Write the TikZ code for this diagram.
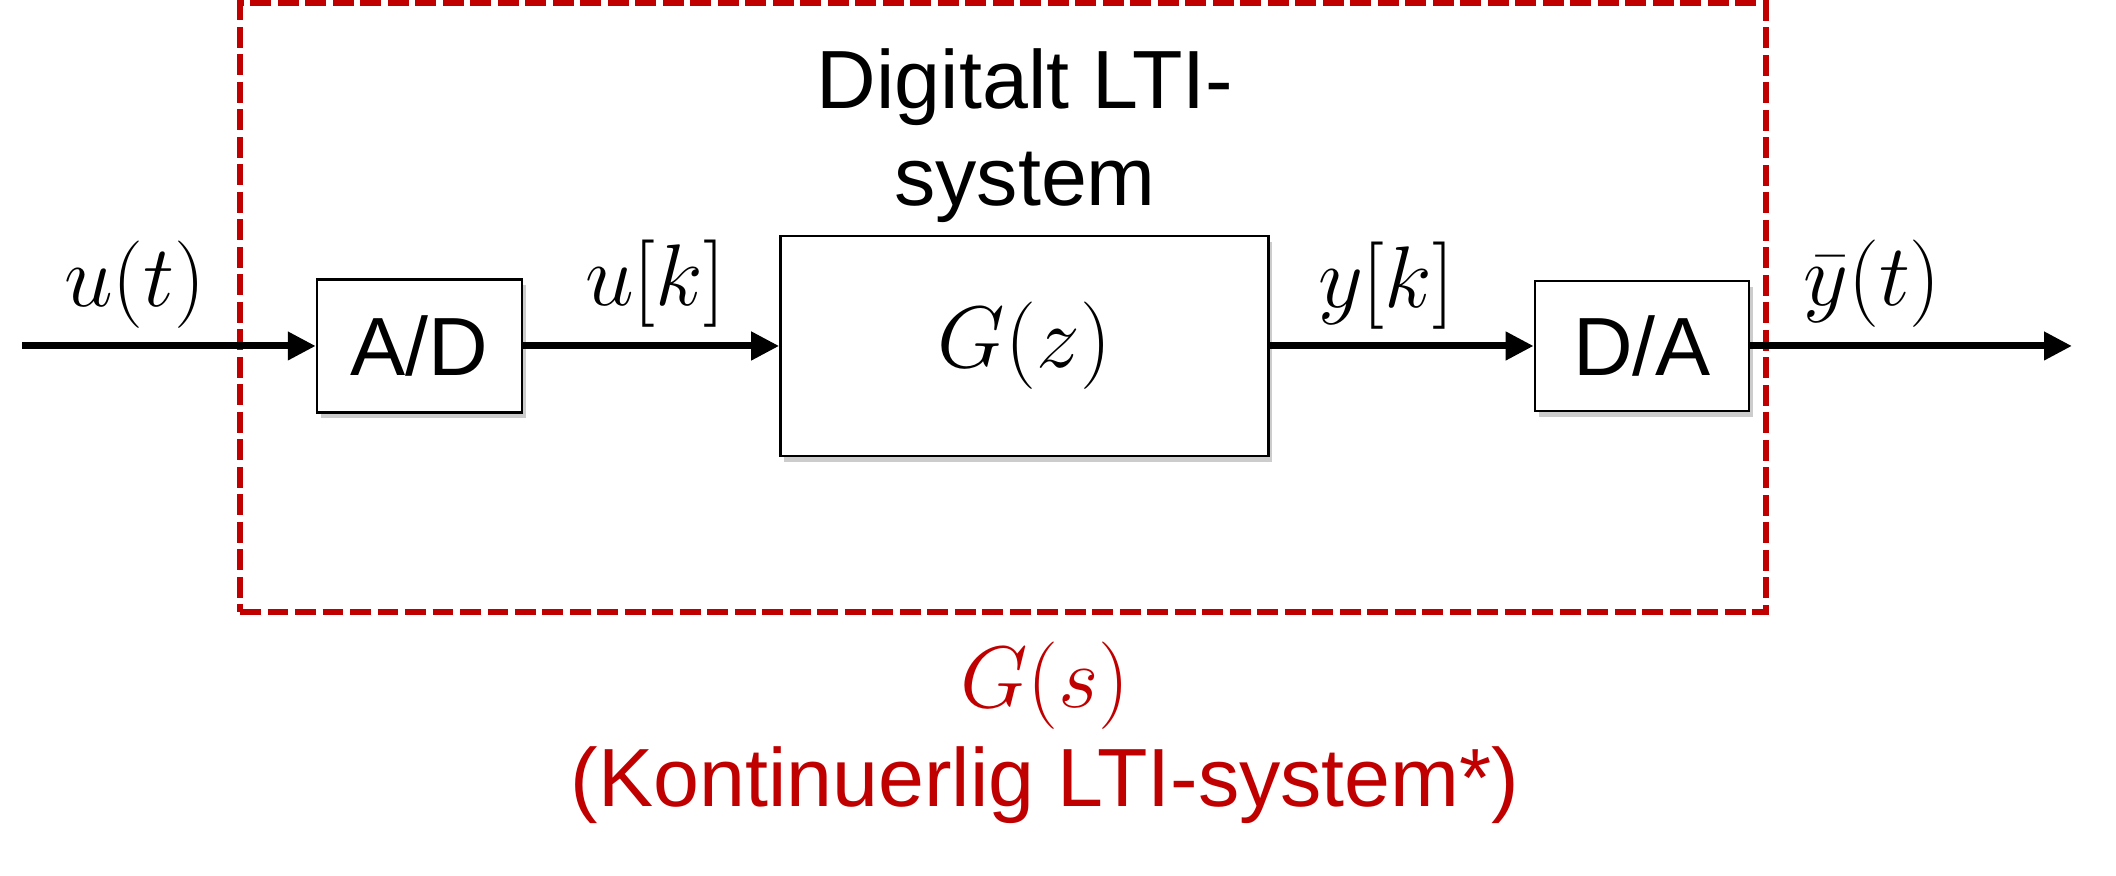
\documentclass[tikz,border=0pt]{standalone}
\usepackage[no-math]{fontspec}
\setmainfont{Liberation Sans}
\usepackage{amsmath}
\usepackage{tikz}
\usetikzlibrary{positioning, shapes, arrows.meta, shadows}

\definecolor{ltired}{RGB}{192,0,0}
\newcommand{\boxfont}{\fontsize{23.5}{27.8}\selectfont}
\newcommand{\sigfont}{\fontsize{25.5}{28}\selectfont}

\begin{document}
\begin{tikzpicture}[
    node distance=2.56cm,
    block/.style={rectangle, draw, line width=0.7pt, fill=white, align=center,
        font=\boxfont, inner sep=0pt,
        drop shadow={shadow xshift=0.04cm, shadow yshift=-0.06cm, opacity=0.2, fill=black}},
    signal/.style={font=\sigfont, anchor=base, inner sep=0pt},
    frame/.style={rectangle, draw=ltired, line width=0.067cm, dash pattern=on 0.207cm off 0.068cm},
    >={Triangle[length=0.28cm, width=0.27cm]}
]
\useasboundingbox (0,0) rectangle (21.16,8.76);

\node[frame, minimum width=15.26cm, minimum height=6.09cm, inner sep=0pt] (sys) at (10.03,5.685) {};

\node[block, minimum width=2.05cm, minimum height=1.33cm] (AD) at (4.195,5.30) {A/D};
\node[block, minimum width=4.88cm, minimum height=2.2cm, right=2.56cm of AD] (Gz) {\sigfont$G(z)$};
\node[block, minimum width=2.14cm, minimum height=1.30cm, right=2.64cm of Gz] (DA) {D/A};

\coordinate (in) at (0.22,5.30);
\coordinate (out) at (20.72,5.30);

\draw[->, line width=0.07cm] (in) -- (AD);
\draw[->, line width=0.07cm] (AD) -- (Gz);
\draw[->, line width=0.07cm] (Gz) -- (DA);
\draw[->, line width=0.07cm] (DA) -- (out);

\node[signal] (ut) at (1.35,5.69) {$u(t)$};
\node[signal] (uk) at (6.55,5.70) {$u[k]$};
\node[signal] (yk) at (13.86,5.68) {$y[k]$};
\node[signal] (ybt) at (18.72,5.70) {$\bar{y}(t)$};

\node[font=\boxfont, align=center, anchor=base] (title) at (10.25,6.70) {Digitalt LTI-\\system};
\node[font=\fontsize{23.5}{28.3}\selectfont, text=ltired, align=center, anchor=base] (cont) at (10.45,0.69) {\sigfont$G(s)$\\(Kontinuerlig LTI-system*)};

\end{tikzpicture}
\end{document}
